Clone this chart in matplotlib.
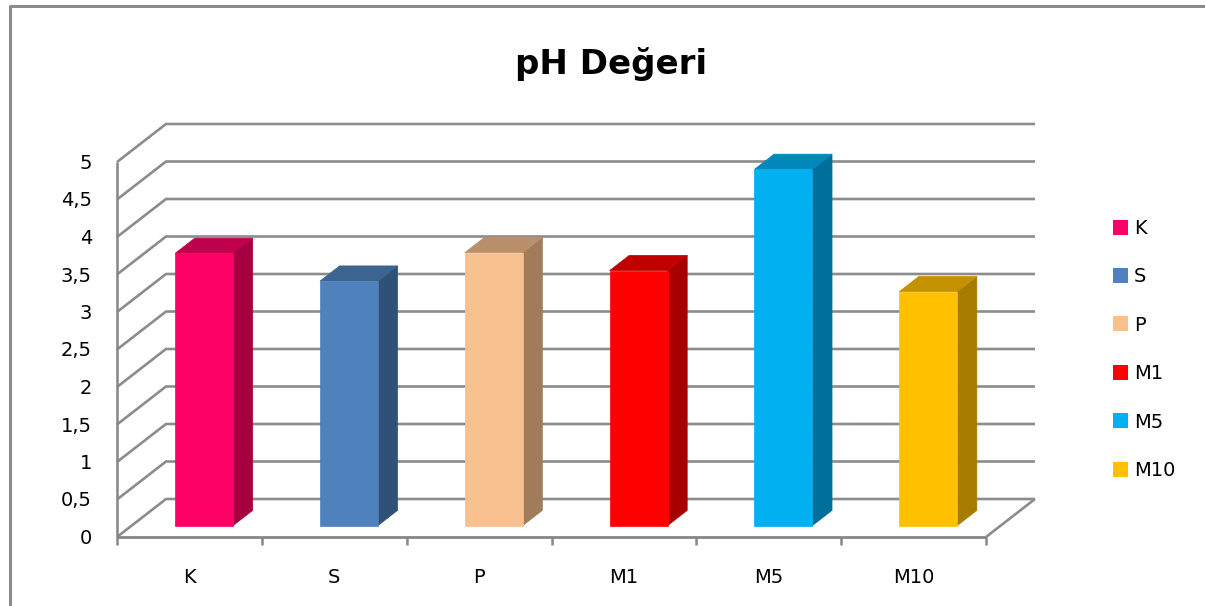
import matplotlib
matplotlib.use("Agg")
import matplotlib.pyplot as plt
from matplotlib.patches import Polygon, Rectangle
from matplotlib.lines import Line2D
import numpy as np

# ---- data ----
categories = ["K", "S", "P", "M1", "M5", "M10"]
values = [3.63, 3.26, 3.64, 3.40, 4.75, 3.12]
yticks = [0, 0.5, 1, 1.5, 2, 2.5, 3, 3.5, 4, 4.5, 5]
ytick_labels = ["0", "0,5", "1", "1,5", "2", "2,5", "3", "3,5", "4", "4,5", "5"]
title = "pH Değeri"
front_colors = ["#FF0066", "#4F81BD", "#F9C08F", "#FF0000", "#00B0F0", "#FFC000"]
side_colors = ["#A5003F", "#2F5077", "#A07C5A", "#A60000", "#00709A", "#A67C00"]
top_colors = ["#BF004C", "#3C6490", "#BA8F6B", "#C00000", "#0088BA", "#C39200"]

W, H = 1205, 606
DPI = 100
FONT = "DejaVu Sans"
GRID = "#8C8C8C"

fig = plt.figure(figsize=(W / DPI, H / DPI), dpi=DPI)
fig.patch.set_facecolor("white")

# front plane axes (pixel placement of the plot area)
left_px, right_px, bottom_px, top_px = 117, 986, 537, 162
ax = fig.add_axes([left_px / W, 1 - bottom_px / H, (right_px - left_px) / W, (bottom_px - top_px) / H])
ax.set_xlim(0, len(categories))
ax.set_ylim(0, 5)
ax.axis("off")

DX, DY = 49.0, 38.0  # depth offset in pixels (full depth)
inv = fig.transFigure.inverted()


def P(x, y, d):
    px, py = ax.transData.transform((x, y))
    return inv.transform((px + DX * d, py + DY * d))


def line(pts, color=GRID, lw=1.9, z=1):
    xs = [p[0] for p in pts]
    ys = [p[1] for p in pts]
    fig.add_artist(Line2D(xs, ys, transform=fig.transFigure, color=color, lw=lw, zorder=z,
                          solid_capstyle="butt"))


n = len(categories)
# back wall gridlines + left wall diagonals
for t in yticks:
    line([P(0, t, 0), P(0, t, 1), P(n, t, 1)])
# floor right diagonal and front base
line([P(n, 0, 0), P(n, 0, 1)])
line([P(0, 0, 0), P(n, 0, 0)], color="#868686", lw=2.0, z=3)
# front vertical axis
line([P(0, 0, 0), P(0, 5, 0)], color="#868686", lw=1.8, z=3)
# category ticks
for i in range(n + 1):
    a = P(i, 0, 0)
    b = inv.transform(ax.transData.transform((i, 0)) + np.array([0, -8]))
    line([a, b], color="#868686", lw=1.8, z=3)

# bars
bw0, bw1 = 0.3, 0.7
d0, d1 = 0.3, 0.7
for i, v in enumerate(values):
    xa, xb = i + bw0, i + bw1
    side = [P(xb, 0, d0), P(xb, 0, d1), P(xb, v, d1), P(xb, v, d0)]
    top = [P(xa, v, d0), P(xb, v, d0), P(xb, v, d1), P(xa, v, d1)]
    front = [P(xa, 0, d0), P(xb, 0, d0), P(xb, v, d0), P(xa, v, d0)]
    for pts, c in ((side, side_colors[i]), (top, top_colors[i]), (front, front_colors[i])):
        fig.add_artist(Polygon(pts, closed=True, transform=fig.transFigure, facecolor=c,
                               edgecolor=c, lw=0.5, zorder=5))

FS = 14
# y tick labels
for t, lab in zip(yticks, ytick_labels):
    px, py = ax.transData.transform((0, t))
    fx, fy = inv.transform((92, py - 7))
    fig.text(fx, fy, lab, ha="right", va="baseline", fontsize=FS, family=FONT, color="black")

# category labels
for i, c in enumerate(categories):
    px, py = ax.transData.transform((i + 0.5, 0))
    fx, fy = inv.transform((px, py - 46))
    fig.text(fx, fy, c, ha="center", va="baseline", fontsize=FS, family=FONT, color="black")

# title
fig.text(611 / W, 1 - 74 / H, title, ha="center", va="baseline", fontsize=24.5, fontweight="bold",
         family=FONT, color="black")

# legend
for i, c in enumerate(categories):
    yc = 227 + i * 48.4
    fig.add_artist(Rectangle((1113 / W, 1 - (yc + 7.5) / H), 15 / W, 15 / H,
                             transform=fig.transFigure, facecolor=front_colors[i], edgecolor="none"))
    fig.text(1134 / W, 1 - (yc + 7) / H, c, ha="left", va="baseline", fontsize=FS, family=FONT)

# outer border (left and top edges visible)
fig.add_artist(Line2D([10 / W, 10 / W, 1.0], [0.0, 1 - 6 / H, 1 - 6 / H], transform=fig.transFigure,
                      color="#8C8C8C", lw=2.2))

fig.savefig("out.png", dpi=DPI, facecolor="white")
